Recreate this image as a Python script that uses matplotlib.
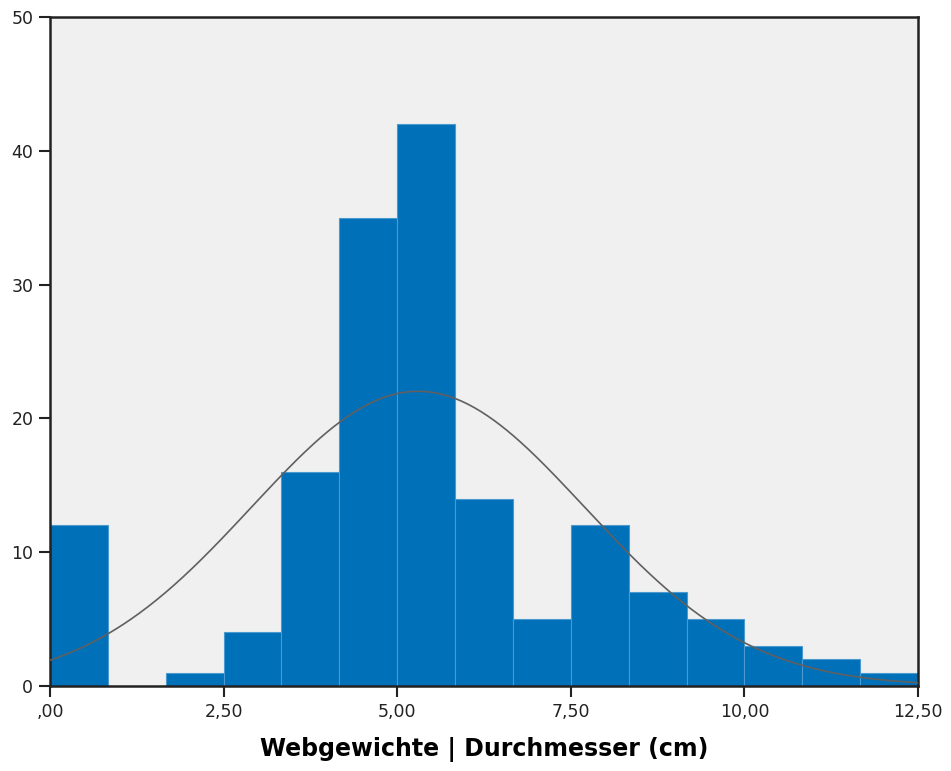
import numpy as np
import matplotlib.pyplot as plt
from matplotlib.ticker import FuncFormatter

# histogram counts (15 bins from 0 to 12.5)
bin_edges = np.linspace(0, 12.5, 16)
counts = [12, 0, 1, 4, 16, 35, 42, 14, 5, 12, 7, 5, 3, 2, 1]
# normal curve parameters
mean_val = 5.3
std_val = 2.4
xticks = [0, 2.5, 5, 7.5, 10, 12.5]
yticks = [0, 10, 20, 30, 40, 50]

plt.rcParams['font.family'] = ['DejaVu Sans']
fig = plt.figure(figsize=(9.51, 7.71), dpi=100)
ax = fig.add_axes([50/951, 85/771, 868/951, 669/771])
ax.set_facecolor('#f0f0f0')

widths = np.diff(bin_edges)
ax.bar(bin_edges[:-1], counts, width=widths, align='edge',
       color='#0070b8', edgecolor='#4a9ad0', linewidth=0.8, zorder=2)

n = sum(counts)
xs = np.linspace(0, 12.5, 400)
ys = n * widths[0] * np.exp(-(xs - mean_val)**2 / (2 * std_val**2)) / (std_val * np.sqrt(2 * np.pi))
ax.plot(xs, ys, color='#606060', linewidth=1.2, zorder=3)


def fmt(v, p):
    s = ('%.2f' % v).replace('.', ',')
    return s[1:] if s.startswith('0') else s


ax.set_xlim(0, 12.5)
ax.set_ylim(0, 50)
ax.set_xticks(xticks)
ax.set_yticks(yticks)
ax.xaxis.set_major_formatter(FuncFormatter(fmt))
ax.tick_params(direction='out', length=8, width=1.5, labelsize=12.5, colors='#222222', pad=4)
for s in ax.spines.values():
    s.set_linewidth(1.8)
    s.set_color('#222222')
ax.set_xlabel('Webgewichte | Durchmesser (cm)', fontsize=17, fontweight='bold', labelpad=12)

fig.savefig('out.png', dpi=100)
